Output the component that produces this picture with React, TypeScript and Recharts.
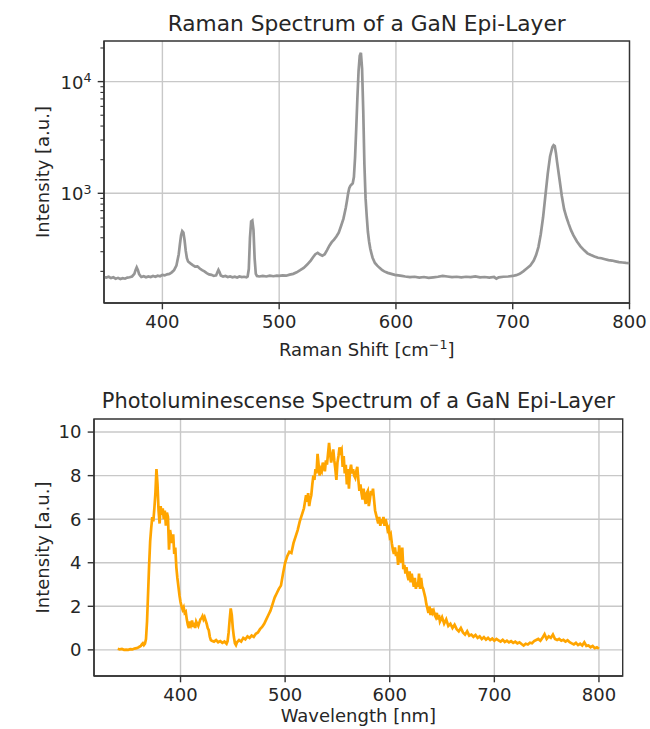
import React from 'react';
import { LineChart, Line, XAxis, YAxis, CartesianGrid, ReferenceArea } from 'recharts';

// Raman spectrum: [Raman shift (cm^-1), intensity (a.u.)]
const ramanSpectrum: [number, number][] = [
  [350, 178], [352, 176], [354, 179], [356, 174], [358, 177], [360, 172], [362, 175], [364, 171],
  [366, 174], [368, 172], [370, 176], [372, 177], [374, 180], [376, 190], [377, 205], [378, 217],
  [379, 206], [380, 190], [381, 183], [382, 178], [384, 181], [386, 177], [388, 180], [390, 178],
  [392, 182], [394, 179], [396, 183], [398, 181], [400, 186], [402, 184], [404, 188], [406, 190],
  [408, 196], [410, 205], [412, 225], [414, 285], [415, 350], [416, 420], [417, 458], [418, 445],
  [419, 380], [420, 305], [421, 262], [422, 245], [424, 236], [426, 228], [428, 221], [430, 222],
  [432, 212], [434, 205], [436, 200], [438, 193], [440, 188], [442, 186], [444, 182], [446, 184],
  [447, 195], [448, 206], [449, 196], [450, 184], [452, 180], [454, 182], [456, 178], [458, 180],
  [460, 177], [462, 179], [464, 176], [466, 180], [468, 178], [470, 179], [472, 177], [473, 180],
  [474, 210], [475, 400], [476, 560], [477, 570], [478, 470], [479, 260], [480, 190], [481, 182],
  [483, 180], [486, 182], [489, 180], [492, 183], [495, 181], [498, 183], [500, 182], [503, 184],
  [506, 183], [509, 187], [512, 190], [515, 196], [518, 205], [521, 215], [524, 230], [527, 250],
  [529, 268], [531, 285], [533, 293], [535, 283], [537, 276], [539, 285], [541, 310], [543, 340],
  [545, 365], [547, 385], [549, 410], [551, 445], [553, 510], [555, 590], [556, 660], [557, 740],
  [558, 850], [559, 990], [560, 1110], [561, 1170], [562, 1200], [563, 1230], [564, 1400], [565, 2100],
  [566, 3800], [567, 7200], [568, 12500], [569, 17000], [570, 18100], [571, 13000], [572, 5500], [573, 1800],
  [574, 900], [575, 620], [576, 450], [577, 370], [578, 320], [579, 290], [580, 265], [582, 238],
  [584, 225], [586, 215], [588, 206], [590, 200], [593, 194], [596, 190], [599, 186], [602, 184],
  [605, 182], [608, 180], [612, 178], [616, 179], [620, 176], [624, 178], [628, 175], [632, 177],
  [636, 179], [640, 182], [644, 180], [648, 178], [652, 179], [656, 177], [660, 179], [664, 178],
  [668, 180], [672, 177], [676, 178], [680, 176], [684, 178], [686, 172], [688, 177], [692, 179],
  [696, 180], [700, 182], [703, 185], [706, 190], [709, 200], [712, 212], [715, 225], [718, 250],
  [720, 280], [722, 330], [724, 430], [726, 610], [728, 960], [730, 1500], [732, 2150], [734, 2600],
  [735, 2700], [736, 2650], [737, 2300], [738, 1900], [740, 1350], [742, 950], [744, 720], [746, 610],
  [748, 530], [750, 465], [752, 420], [755, 370], [758, 335], [761, 310], [764, 290], [767, 280],
  [770, 272], [773, 265], [776, 262], [779, 257], [782, 252], [785, 250], [788, 246], [791, 242],
  [794, 240], [797, 238], [800, 237],
];

// Photoluminescence spectrum: [wavelength (nm), intensity (a.u.)]
const plSpectrum: [number, number][] = [
  [340, 0.05], [342, 0.02], [344, 0.04], [346, 0.0], [348, 0.01], [350, 0.0], [352, 0.03], [354, 0.02],
  [356, 0.06], [358, 0.08], [360, 0.12], [362, 0.18], [363, 0.25], [364, 0.3], [365, 0.22], [366, 0.28],
  [367, 0.5], [368, 1.3], [369, 2.6], [370, 3.9], [371, 5.0], [372, 5.6], [373, 6.1], [374, 5.9],
  [375, 6.5], [376, 7.2], [377, 8.3], [378, 7.6], [379, 6.4], [380, 5.8], [381, 6.6], [382, 6.2],
  [383, 6.5], [384, 6.0], [385, 6.4], [386, 5.7], [387, 6.3], [388, 6.1], [389, 4.6], [390, 5.5],
  [391, 5.2], [392, 4.9], [393, 5.3], [394, 4.4], [395, 4.7], [396, 3.8], [397, 3.3], [398, 2.9],
  [399, 2.5], [400, 2.2], [401, 2.0], [402, 1.85], [403, 1.95], [404, 1.7], [405, 1.75], [406, 1.4],
  [407, 1.15], [408, 1.0], [409, 1.3], [410, 1.15], [411, 1.35], [412, 1.05], [413, 1.25], [414, 1.0],
  [415, 1.3], [416, 1.2], [417, 1.1], [418, 1.25], [419, 1.4], [420, 1.45], [421, 1.55], [422, 1.4],
  [423, 1.5], [424, 1.35], [425, 1.2], [426, 1.0], [427, 0.9], [428, 0.6], [429, 0.45], [430, 0.42],
  [432, 0.38], [434, 0.45], [436, 0.35], [438, 0.4], [440, 0.32], [442, 0.38], [444, 0.28], [445, 0.4],
  [446, 0.8], [447, 1.4], [448, 1.9], [449, 1.6], [450, 1.0], [451, 0.6], [452, 0.3], [453, 0.22],
  [454, 0.35], [456, 0.45], [458, 0.38], [460, 0.55], [462, 0.48], [464, 0.62], [466, 0.55], [468, 0.66],
  [470, 0.6], [472, 0.74], [474, 0.8], [476, 0.95], [478, 1.05], [480, 1.2], [482, 1.4], [484, 1.6],
  [486, 1.8], [488, 2.1], [490, 2.4], [492, 2.6], [494, 2.8], [496, 2.95], [498, 3.5], [500, 4.0],
  [502, 4.3], [504, 4.5], [506, 4.45], [508, 4.9], [510, 5.2], [512, 5.5], [514, 5.9], [516, 6.2],
  [518, 6.5], [520, 7.1], [521, 6.8], [522, 7.2], [523, 6.6], [524, 6.9], [525, 7.1], [526, 7.6],
  [527, 8.0], [528, 7.8], [529, 8.3], [530, 8.1], [531, 9.0], [532, 8.5], [533, 8.0], [534, 8.3],
  [535, 8.2], [536, 8.6], [537, 8.4], [538, 8.2], [539, 8.7], [540, 8.5], [541, 9.0], [542, 9.5],
  [543, 9.0], [544, 8.6], [545, 8.9], [546, 9.2], [547, 8.7], [548, 8.3], [549, 7.8], [550, 8.6],
  [551, 8.9], [552, 9.3], [553, 9.1], [554, 9.2], [555, 8.4], [556, 8.9], [557, 8.1], [558, 8.5],
  [559, 7.6], [560, 8.3], [561, 7.4], [562, 8.2], [563, 8.5], [564, 8.1], [565, 8.3], [566, 8.0],
  [567, 7.9], [568, 8.2], [569, 8.4], [570, 7.8], [571, 7.3], [572, 7.6], [573, 7.2], [574, 6.9],
  [575, 7.4], [576, 7.0], [577, 6.7], [578, 7.2], [579, 7.3], [580, 6.6], [581, 6.9], [582, 7.3],
  [583, 7.1], [584, 7.4], [585, 6.9], [586, 6.4], [587, 6.2], [588, 6.0], [589, 5.8], [590, 6.1],
  [591, 5.7], [592, 6.0], [593, 5.8], [594, 6.1], [595, 5.7], [596, 6.0], [597, 5.8], [598, 5.5],
  [599, 5.6], [600, 5.2], [601, 5.3], [602, 4.9], [603, 4.6], [604, 4.4], [605, 4.7], [606, 4.3],
  [607, 4.5], [608, 3.9], [609, 4.8], [610, 4.3], [611, 4.0], [612, 4.7], [613, 3.7], [614, 3.9],
  [615, 3.5], [616, 3.8], [617, 3.4], [618, 3.2], [619, 3.6], [620, 3.1], [621, 3.5], [622, 3.2],
  [623, 2.9], [624, 3.3], [625, 2.8], [626, 3.1], [627, 2.9], [628, 3.5], [629, 2.8], [630, 3.3],
  [631, 2.9], [632, 2.8], [633, 2.6], [634, 2.4], [635, 2.1], [636, 1.9], [637, 1.7], [638, 2.0],
  [639, 1.6], [640, 1.9], [641, 1.7], [642, 1.8], [643, 1.6], [644, 1.5], [645, 1.7], [646, 1.4],
  [647, 1.6], [648, 1.3], [650, 1.5], [652, 1.2], [654, 1.4], [656, 1.1], [658, 1.2], [660, 1.0],
  [662, 1.15], [664, 0.95], [666, 0.85], [668, 1.0], [670, 0.8], [672, 0.7], [674, 0.85], [676, 0.65],
  [678, 0.7], [680, 0.6], [682, 0.68], [684, 0.55], [686, 0.62], [688, 0.5], [690, 0.58], [692, 0.47],
  [694, 0.55], [696, 0.45], [698, 0.52], [700, 0.42], [702, 0.5], [704, 0.44], [706, 0.38], [708, 0.46],
  [710, 0.36], [712, 0.42], [714, 0.34], [716, 0.4], [718, 0.32], [720, 0.38], [722, 0.3], [724, 0.35],
  [726, 0.27], [728, 0.2], [730, 0.28], [732, 0.25], [734, 0.33], [736, 0.3], [738, 0.4], [740, 0.45],
  [742, 0.5], [744, 0.42], [746, 0.55], [748, 0.72], [750, 0.5], [752, 0.62], [754, 0.55], [756, 0.7],
  [758, 0.5], [760, 0.45], [762, 0.5], [764, 0.42], [766, 0.46], [768, 0.38], [770, 0.44], [772, 0.35],
  [774, 0.3], [776, 0.25], [778, 0.32], [780, 0.22], [782, 0.28], [784, 0.2], [786, 0.35], [788, 0.18],
  [790, 0.2], [792, 0.12], [794, 0.18], [796, 0.08], [798, 0.12], [800, 0.05],
];

const ramanXDomain: [number, number] = [350, 800];
const ramanYDomain: [number, number] = [104.2, 23100];
const plXDomain: [number, number] = [317.3, 822.7];
const plYDomain: [number, number] = [-1.2, 10.6];

const ramanXTicks = [400, 500, 600, 700, 800];
const ramanYMajor = [1000, 10000];
const ramanYTicks = [200, 300, 400, 500, 600, 700, 800, 900, 1000, 2000, 3000, 4000, 5000, 6000, 7000, 8000, 9000, 10000, 20000];
const plXTicks = [400, 500, 600, 700, 800];
const plYTicks = [0, 2, 4, 6, 8, 10];

const ramanTitle = 'Raman Spectrum of a GaN Epi-Layer';
const plTitle = 'Photoluminescense Spectrum of a GaN Epi-Layer';
const yLabel = 'Intensity [a.u.]';
const plXLabel = 'Wavelength [nm]';

const FONT = '"DejaVu Sans", sans-serif';
const TEXT = '#262626';
const SPINE = '#333333';
const GRID = '#c8c8c8';

const ramanData = ramanSpectrum.map(([x, y]) => ({ x, y }));
const plData = plSpectrum.map(([x, y]) => ({ x, y }));

const tickStyle = { fontSize: 18, fill: TEXT, fontFamily: FONT };
const axisLineStyle = { stroke: SPINE, strokeWidth: 1.4 };
const tickLineStyle = { stroke: SPINE, strokeWidth: 1.4 };

const LogTick = (props: any) => {
  const { x, y, payload } = props;
  const v = payload.value;
  const exp = Math.round(Math.log10(v));
  const major = ramanYMajor.includes(v);
  return (
    <g>
      <line x1={x} y1={y} x2={x - (major ? 6.3 : 3.6)} y2={y} stroke={SPINE} strokeWidth={major ? 1.4 : 1.1} />
      {major && (
        <text x={x - 12.6} y={y + 7} textAnchor="end" fontSize={18} fill={TEXT} fontFamily={FONT}>
          10<tspan dy={-6.6} fontSize={12.6}>{exp}</tspan>
        </text>
      )}
    </g>
  );
};

export default function App() {
  return (
    <div style={{ position: 'absolute', left: 0, top: 0, width: 650, height: 729, background: '#fff', fontFamily: FONT }}>
      <div style={{ position: 'absolute', left: 0, top: 0 }}>
        <LineChart width={650} height={370} data={ramanData} margin={{ top: 41, right: 20.5, bottom: 0, left: 0 }}>
          <CartesianGrid stroke={GRID} strokeWidth={1.4} horizontalValues={ramanYMajor} verticalValues={ramanXTicks} />
          <XAxis
            dataKey="x" type="number" domain={ramanXDomain} ticks={ramanXTicks} allowDataOverflow
            height={67} tick={tickStyle} tickSize={6.3} tickMargin={6.3} tickLine={tickLineStyle} axisLine={axisLineStyle} interval={0}
          />
          <YAxis
            type="number" scale="log" domain={ramanYDomain} allowDataOverflow ticks={ramanYTicks} interval={0}
            width={104} tick={<LogTick />} tickSize={0} tickMargin={0} tickLine={false} axisLine={axisLineStyle}
          />
          <Line dataKey="y" stroke="#969696" strokeWidth={2.7} dot={false} isAnimationActive={false} type="linear" />
          <ReferenceArea
            x1={ramanXDomain[0]} x2={ramanXDomain[1]} y1={ramanYDomain[0]} y2={ramanYDomain[1]}
            fill="none" fillOpacity={0} stroke={SPINE} strokeWidth={1.4} ifOverflow="visible"
          />
        </LineChart>
      </div>
      <div style={{ position: 'absolute', left: 0, top: 370 }}>
        <LineChart width={650} height={359} data={plData} margin={{ top: 49, right: 27.3, bottom: 0, left: 0 }}>
          <CartesianGrid stroke={GRID} strokeWidth={1.4} horizontalValues={plYTicks} verticalValues={plXTicks} />
          <XAxis
            dataKey="x" type="number" domain={plXDomain} ticks={plXTicks} allowDataOverflow
            height={53} tick={tickStyle} tickSize={6.3} tickMargin={6.3} tickLine={tickLineStyle} axisLine={axisLineStyle} interval={0}
          />
          <YAxis
            type="number" domain={plYDomain} allowDataOverflow ticks={plYTicks} interval={0}
            width={94} tick={tickStyle} tickSize={6.3} tickMargin={6.3} tickLine={tickLineStyle} axisLine={axisLineStyle}
          />
          <Line dataKey="y" stroke="#FFA500" strokeWidth={2.7} dot={false} isAnimationActive={false} type="linear" />
          <ReferenceArea
            x1={plXDomain[0]} x2={plXDomain[1]} y1={plYDomain[0]} y2={plYDomain[1]}
            fill="none" fillOpacity={0} stroke={SPINE} strokeWidth={1.4} ifOverflow="visible"
          />
        </LineChart>
      </div>
      <svg width={650} height={729} style={{ position: 'absolute', left: 0, top: 0, pointerEvents: 'none' }}>
        <g fontFamily={FONT} fill={TEXT}>
          <text x={366.7} y={31} textAnchor="middle" fontSize={21.7}>{ramanTitle}</text>
          <text x={366.7} y={356} textAnchor="middle" fontSize={18}>
            Raman Shift [cm<tspan dy={-7} fontSize={12.6}>−1</tspan><tspan dy={7}>]</tspan>
          </text>
          <text transform="translate(48.5,172) rotate(-90)" textAnchor="middle" fontSize={18}>{yLabel}</text>
          <text x={358.4} y={408} textAnchor="middle" fontSize={20.9}>{plTitle}</text>
          <text x={358.4} y={722} textAnchor="middle" fontSize={18}>{plXLabel}</text>
          <text transform="translate(49,547.5) rotate(-90)" textAnchor="middle" fontSize={18}>{yLabel}</text>
        </g>
      </svg>
    </div>
  );
}
